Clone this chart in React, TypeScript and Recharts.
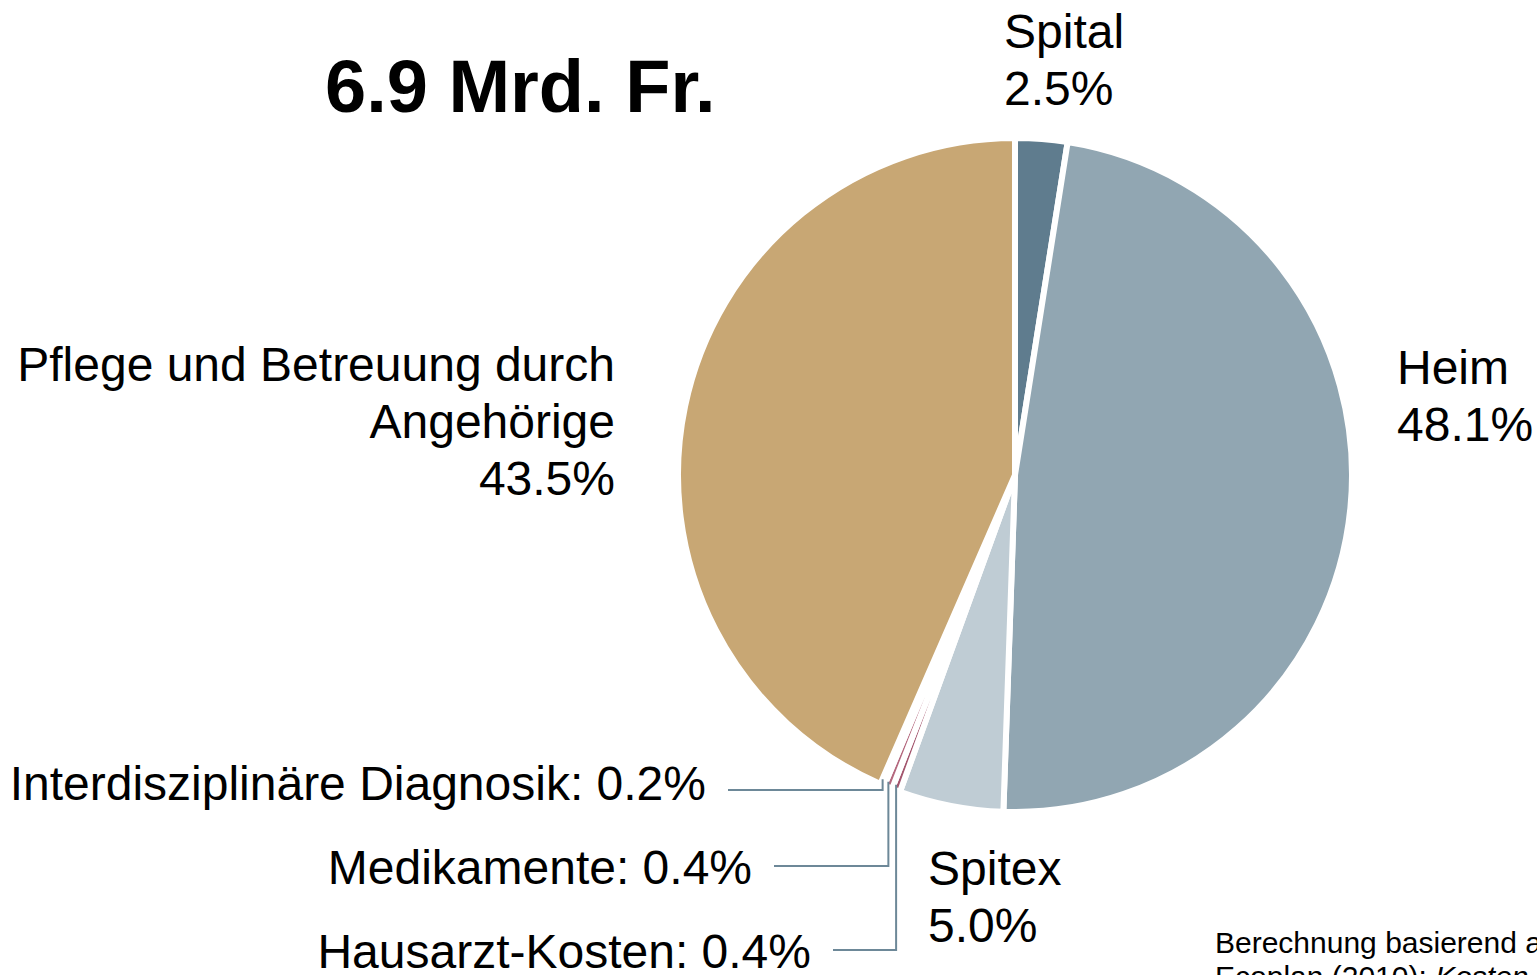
import React from "react";
import { PieChart, Pie, Cell } from "recharts";

// Kostenanteile (Uhrzeigersinn ab 12 Uhr)
const names = [
  "Spital",
  "Heim",
  "Spitex",
  "Hausarzt-Kosten",
  "Medikamente",
  "Interdisziplinäre Diagnosik",
  "Pflege und Betreuung durch Angehörige",
];
const shares = [2.5, 48.1, 5.0, 0.4, 0.4, 0.2, 43.5];
const colors = ["#5f7c8e", "#91a6b2", "#bfccd4", "#a3566e", "#b4687e", "#c98e9e", "#c8a774"];

// label text lines per slice
const labelLines: string[][] = [
  ["Spital", "2.5%"],
  ["Heim", "48.1%"],
  ["Spitex", "5.0%"],
  ["Hausarzt-Kosten: 0.4%"],
  ["Medikamente: 0.4%"],
  ["Interdisziplinäre Diagnosik: 0.2%"],
  ["Pflege und Betreuung durch", "Angehörige", "43.5%"],
];

// where each label sits (x, first baseline, anchor, leader line y)
const labelPos = [
  { x: 1004, y: 48, anchor: "start", lineY: 0 },
  { x: 1397, y: 384, anchor: "start", lineY: 0 },
  { x: 928, y: 885, anchor: "start", lineY: 0 },
  { x: 811, y: 968, anchor: "end", lineY: 950 },
  { x: 752, y: 884, anchor: "end", lineY: 866 },
  { x: 706, y: 800, anchor: "end", lineY: 790 },
  { x: 615, y: 381, anchor: "end", lineY: 0 },
];

const data = names.map((name, i) => ({ name, value: shares[i] }));

const FONT = "'Liberation Sans', Arial, sans-serif";
const RAD = Math.PI / 180;

const renderLabel = (props: any) => {
  const { index } = props;
  const pos = labelPos[index];
  const lines = labelLines[index];
  return (
    <text
      key={`lbl-${index}`}
      x={pos.x}
      y={pos.y}
      textAnchor={pos.anchor}
      fontFamily={FONT}
      fontSize={48}
      fill="#000"
    >
      {lines.map((l, j) => (
        <tspan key={j} x={pos.x} dy={j === 0 ? 0 : 57}>
          {l}
        </tspan>
      ))}
    </text>
  );
};

const renderLeader = (props: any) => {
  const { index, cx, cy, midAngle, outerRadius } = props;
  const pos = labelPos[index];
  if (!pos.lineY) return <g key={`ll-${index}`} />;
  const sx = cx + (outerRadius - 6) * Math.cos(-midAngle * RAD) - 2;
  const sy = cy + (outerRadius - 6) * Math.sin(-midAngle * RAD);
  const lx = pos.x + 22;
  return (
    <polyline
      key={`ll-${index}`}
      points={`${sx},${sy} ${sx},${pos.lineY} ${lx},${pos.lineY}`}
      fill="none"
      stroke="#6d8898"
      strokeWidth={2}
    />
  );
};

export default function App() {
  return (
    <div
      style={{
        position: "absolute",
        left: 0,
        top: 0,
        width: 1537,
        height: 975,
        overflow: "hidden",
        background: "#fff",
        fontFamily: FONT,
      }}
    >
      <PieChart width={1537} height={975} margin={{ top: 0, right: 0, bottom: 0, left: 0 }}>
        <Pie
          data={data}
          dataKey="value"
          nameKey="name"
          cx={1015}
          cy={475}
          outerRadius={337}
          startAngle={90}
          endAngle={-270}
          stroke="#fff"
          strokeWidth={6}
          label={renderLabel}
          labelLine={renderLeader}
          isAnimationActive={false}
        >
          {data.map((d, i) => (
            <Cell key={d.name} fill={colors[i]} />
          ))}
        </Pie>
      </PieChart>
      <div
        style={{
          position: "absolute",
          left: 325,
          top: 44,
          fontSize: 74,
          fontWeight: "bold",
          lineHeight: "85px",
          whiteSpace: "nowrap",
        }}
      >
        6.9 Mrd. Fr.
      </div>
      <div
        style={{
          position: "absolute",
          left: 1215,
          top: 926,
          fontSize: 30,
          lineHeight: "34px",
          whiteSpace: "nowrap",
        }}
      >
        <div>Berechnung basierend auf</div>
        <div>
          Ecoplan (2010): <i>Kosten der Demenz in der Schweiz</i>
        </div>
      </div>
    </div>
  );
}
